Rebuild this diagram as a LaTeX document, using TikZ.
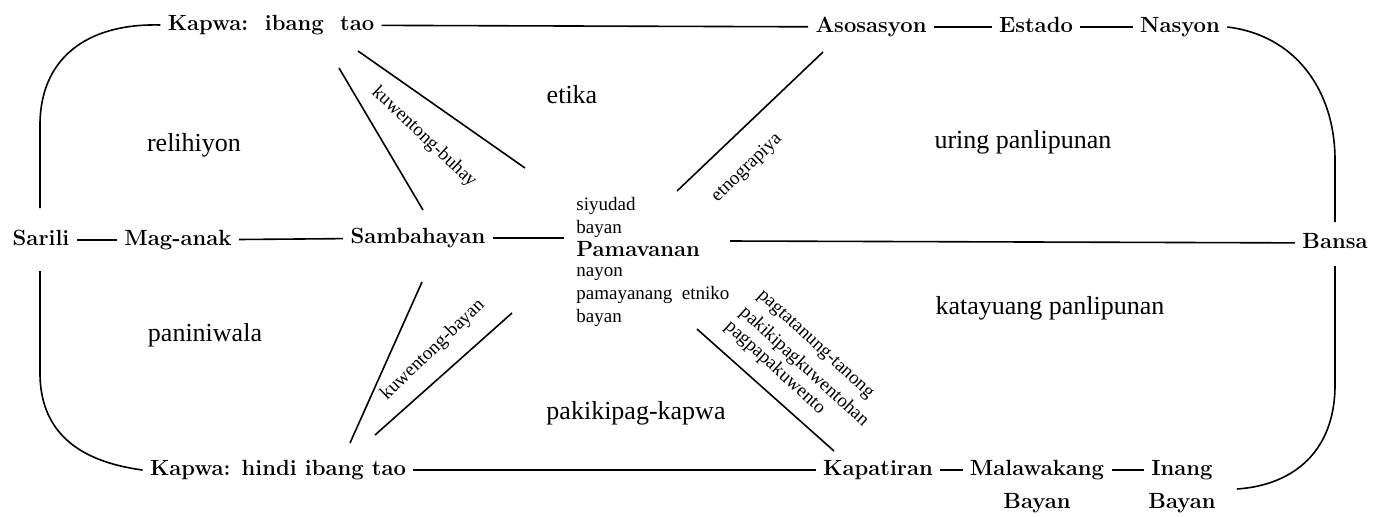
\documentclass[tikz,border=0pt]{standalone}
\usepackage{fontspec}
\newfontfamily\lib{Liberation Serif}
\usetikzlibrary{calc}
\begin{document}
\begin{tikzpicture}[x=0.5pt,y=-0.5pt,
  bn/.style={font=\fontsize{11}{13}\selectfont\bfseries, inner xsep=3.5pt, inner ysep=2pt, text height=1.6ex, text depth=0.4ex},
  reg/.style={font=\lib\fontsize{13}{15}\selectfont, inner sep=0pt},
  sm/.style={font=\lib\fontsize{9.5}{11}\selectfont, inner sep=0pt},
  ln/.style={line width=0.8pt}]
\useasboundingbox (0,0) rectangle (1381,516);
% main nodes
\node[bn] (kit) at (271,25) {Kapwa:\ \ ibang\ \ tao};
\node[bn] (aso) at (871,27) {Asosasyon};
\node[bn] (est) at (1036,27) {Estado};
\node[bn] (nas) at (1180,27) {Nasyon};
\node[bn] (sar) at (41,240) {Sarili};
\node[bn] (mag) at (178,240) {Mag-anak};
\node[bn] (sam) at (418,238) {Sambahayan};
\node[bn, anchor=base west, inner xsep=6pt] (pam) at (564,256) {Pamavanan};
\node[bn] (ban) at (1335,243) {Bansa};
\node[bn] (kh) at (278,470) {Kapwa: hindi ibang tao};
\node[bn] (kap) at (878,470) {Kapatiran};
\node[bn] (mal) at (1037,470) {Malawakang};
\node[bn] (malb) at (1037,503) {Bayan};
\node[bn] (ina) at (1182,470) {Inang};
\node[bn] (inab) at (1182,503) {Bayan};
% small words around Pamavanan
\node[sm, anchor=base west] (s1) at (576,210) {siyudad};
\node[sm, anchor=base west] (s2) at (576,233) {bayan};
\node[sm, anchor=base west] (s3) at (576,276) {nayon};
\node[sm, anchor=base west] (s4) at (576,299) {pamayanang\ \ etniko};
\node[sm, anchor=base west] (s5) at (576,322) {bayan};
% region labels
\node[reg] (r1) at (194,145) {relihiyon};
\node[reg] (r2) at (572,95) {etika};
\node[reg] (r3) at (1023,142) {uring panlipunan};
\node[reg] (r4) at (1050,308) {katayuang panlipunan};
\node[reg] (r5) at (205,335) {paniniwala};
\node[reg] (r6) at (636,413) {pakikipag-kapwa};
% rotated labels
\node[sm, rotate=-43.5] (l1) at (424,137) {kuwentong-buhay};
\node[sm, rotate=44] (l2) at (747,168) {etnograpiya};
\node[sm, rotate=44] (l3) at (433,350) {kuwentong-bayan};
\node[sm, rotate=-42.5] (l4) at (815,345) {pagtatanung-tanong};
\node[sm, rotate=-42.5] (l5) at (804,367) {pakikipagkuwentohan};
\node[sm, rotate=-42.5] (l6) at (775,368) {pagpapakuwento};
% free ends
\coordinate (lt) at (40,208);
\coordinate (lb) at (40,271);
\coordinate (rt) at (1335,222);
\coordinate (rb) at (1335,266);
\coordinate (pr) at (730,241);
\coordinate (ie) at (1237,489);
% connectors
\draw[ln] (sar) -- (mag);
\draw[ln] (mag) -- (sam);
\draw[ln] (sam.east) -- (sam.east -| pam.west);
\draw[ln] (pr) -- (ban);
\draw[ln] (kit) -- (aso);
\draw[ln] (aso) -- (est);
\draw[ln] (est) -- (nas);
\draw[ln] (kh) -- (kap);
\draw[ln] (kap) -- (mal);
\draw[ln] (mal) -- (ina);
% rounded sides
\draw[ln] (kit.west) .. controls (85,23) and (40,60) .. (40,125) -- (lt);
\draw[ln] (lb) -- (40,373) .. controls (40,440) and (90,463) .. (kh.west);
\draw[ln] (nas.east) .. controls (1295,35) and (1335,90) .. (1335,160) -- (rt);
\draw[ln] (rb) -- (1335,385) .. controls (1335,450) and (1295,485) .. (ie);
% diagonal strokes
\draw[ln] (339,68) -- (423,210);
\draw[ln] (358,51) -- (525,168);
\draw[ln] (677,191) -- (823,52);
\draw[ln] (350,443) -- (422,282);
\draw[ln] (375,435) -- (512,313);
\draw[ln] (697,329) -- (834,451);
\end{tikzpicture}
\end{document}
